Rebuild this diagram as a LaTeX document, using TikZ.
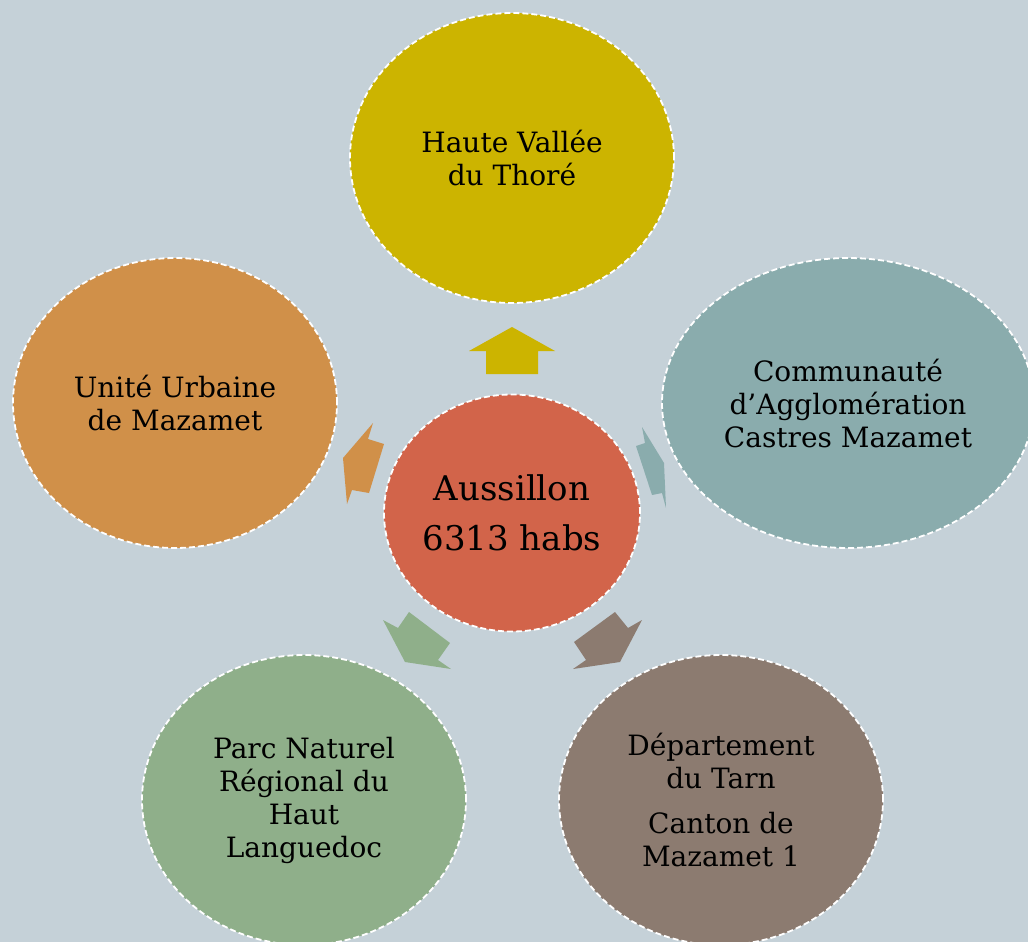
\documentclass[tikz,border=0pt]{standalone}
\usepackage{fontspec}
\setmainfont{DejaVu Serif}
\usetikzlibrary{shapes.geometric}
\definecolor{bg}{HTML}{C5D1D8}
\definecolor{cTop}{HTML}{CCB400}
\definecolor{cMid}{HTML}{D2644A}
\definecolor{cLeft}{HTML}{D09049}
\definecolor{cRight}{HTML}{8AACAD}
\definecolor{cBL}{HTML}{8FAF8A}
\definecolor{cBR}{HTML}{8C7B70}
\begin{document}
\begin{tikzpicture}[x=1pt,y=-1pt,
  bubble/.style={ellipse, draw=white, line width=1.8pt, dash pattern=on 6pt off 3pt,
    inner sep=0pt, align=center, text=black, font=\fontsize{28}{33}\selectfont},
  blockarrow/.style={draw=none}]
\useasboundingbox (0,0) rectangle (1028,942);
\fill[bg] (0,0) rectangle (1028,942);
\clip (0,0) rectangle (1028,942);
% outer bubbles
\node[bubble, fill=cTop, minimum width=324pt, minimum height=290pt] (top) at (512,158) {Haute Vallée\\du Thoré};
\node[bubble, fill=cLeft, minimum width=324pt, minimum height=290pt] (left) at (175,403) {Unité Urbaine\\de Mazamet};
\node[bubble, fill=cRight, minimum width=372pt, minimum height=290pt] (right) at (848,403) {Communauté\\d’Agglomération\\Castres Mazamet};
\node[bubble, fill=cBL, minimum width=324pt, minimum height=290pt] (bl) at (304,800) {Parc Naturel\\Régional du\\Haut\\Languedoc};
\node[bubble, fill=cBR, minimum width=324pt, minimum height=290pt] (br) at (721,800) {Département\\du Tarn\\[12pt]Canton de\\Mazamet 1};
% centre
\node[bubble, fill=cMid, minimum width=256pt, minimum height=237pt, font=\fontsize{34}{50}\selectfont] (mid) at (512,513) {Aussillon\\6313 habs};
% block arrows
\fill[cTop, blockarrow] (512,327) -- (555,351) -- (538,351) -- (538,374) -- (486,374) -- (486,351) -- (469,351) -- cycle;
\fill[cLeft, blockarrow] (373,423) -- (368,439) -- (384,444) -- (369,493) -- (352,490) -- (347,504) -- (343,458) -- cycle;
\fill[cRight, blockarrow] (642,427) -- (645,443) -- (636,446) -- (652,495) -- (662,493) -- (666,508) -- (664,463) -- cycle;
\fill[cBL, blockarrow] (383,620) -- (398,628) -- (409,612) -- (450,643) -- (438,660) -- (451,669) -- (405,662) -- cycle;
\fill[cBR, blockarrow] (615,612) -- (628,628) -- (642,620) -- (620,662) -- (573,669) -- (586,660) -- (574,642) -- cycle;
\end{tikzpicture}
\end{document}
